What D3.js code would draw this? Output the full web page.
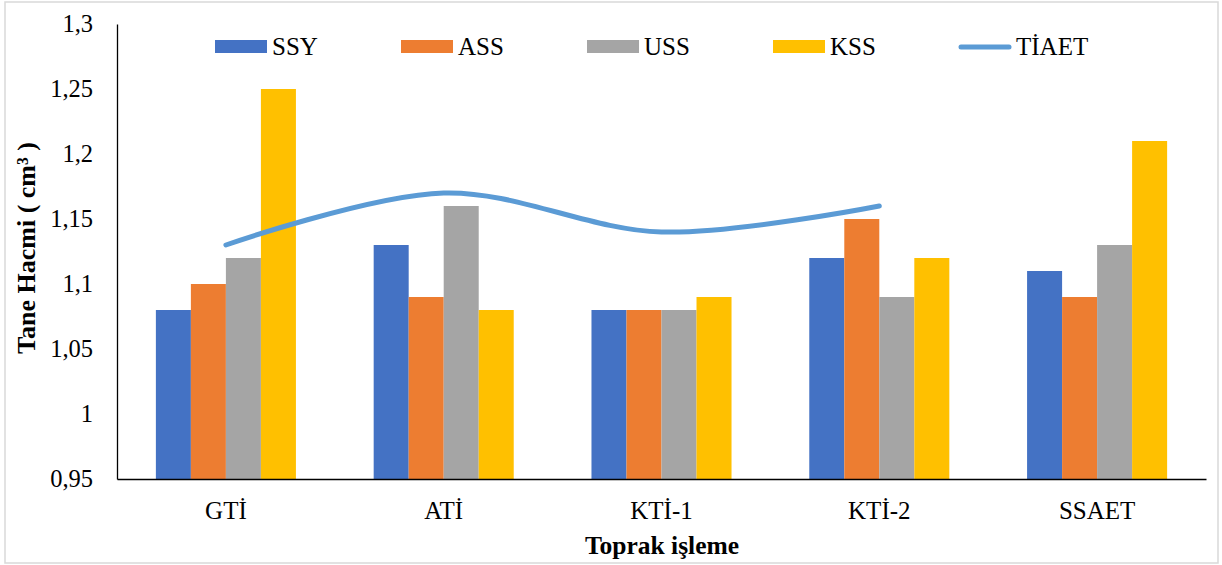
<!DOCTYPE html>
<html>
<head>
<meta charset="utf-8">
<script src="https://cdn.jsdelivr.net/npm/d3@7"></script>
<style>
  html, body { margin: 0; padding: 0; background: #fff; }
  svg { display: block; }
</style>
</head>
<body>
<svg id="chart" width="1222" height="565"></svg>
<script>
// Soil tillage methods (x categories)
const categories = ["GTİ", "ATİ", "KTİ-1", "KTİ-2", "SSAET"];

// Grain volume (cm³) per series
const seriesNames = ["SSY", "ASS", "USS", "KSS"];
const ssy = [1.08, 1.13, 1.08, 1.12, 1.11];
const ass = [1.10, 1.09, 1.08, 1.15, 1.09];
const uss = [1.12, 1.16, 1.08, 1.09, 1.13];
const kss = [1.25, 1.08, 1.09, 1.12, 1.21];

// Line series (no value for SSAET)
const lineName = "TİAET";
const tiaet = [1.13, 1.17, 1.14, 1.16];

const yTicks = [0.95, 1, 1.05, 1.1, 1.15, 1.2, 1.25, 1.3];

const barColors = ["#4472C4", "#ED7D31", "#A5A5A5", "#FFC000"];
const lineColor = "#5B9BD5";

const FONT = "'Times New Roman', Tinos, 'Liberation Serif', 'DejaVu Serif', serif";

const svg = d3.select("#chart");
const W = 1222, H = 565;
const plot = { left: 117, right: 1206, top: 24, bottom: 479 };

// chart frame
svg.append("rect")
  .attr("x", 5).attr("y", 2).attr("width", W - 9).attr("height", H - 4)
  .attr("fill", "#fff").attr("stroke", "#d9d9d9").attr("stroke-width", 1.5);

const x0 = d3.scaleBand()
  .domain(categories)
  .range([plot.left, plot.right])
  .paddingInner(0.357)
  .paddingOuter(0.1785);

const x1 = d3.scaleBand()
  .domain(seriesNames)
  .range([0, x0.bandwidth()]);

const y = d3.scaleLinear().domain([0.95, 1.3]).range([plot.bottom, plot.top]);

const fmt = v => d3.format("~g")(v).replace(".", ",");

// Bars
const seriesData = [ssy, ass, uss, kss];
const rows = categories.map((c, i) => ({
  cat: c,
  vals: seriesNames.map((s, j) => ({ s, v: seriesData[j][i], j }))
}));

const groups = svg.append("g").selectAll("g")
  .data(rows).join("g")
  .attr("transform", d => `translate(${x0(d.cat)},0)`);

groups.selectAll("rect")
  .data(d => d.vals).join("rect")
  .attr("x", d => x1(d.s))
  .attr("y", d => y(d.v))
  .attr("width", x1.bandwidth())
  .attr("height", d => y(0.95) - y(d.v))
  .attr("fill", d => barColors[d.j]);

// Y axis: line and labels only
const yAxis = d3.axisLeft(y).tickValues(yTicks).tickFormat(fmt).tickSize(0).tickPadding(24);
const yg = svg.append("g").attr("transform", `translate(${plot.left},0)`).call(yAxis)
  .attr("font-family", FONT).attr("font-size", 24.5);
yg.select(".domain").attr("stroke", "#000").attr("stroke-width", 1.3);
yg.selectAll("text").attr("fill", "#000");

// X axis
const xAxis = d3.axisBottom(x0).tickSize(0).tickPadding(22);
const xg = svg.append("g").attr("transform", `translate(0,${plot.bottom})`).call(xAxis)
  .attr("font-family", FONT).attr("font-size", 25);
xg.select(".domain").attr("stroke", "#000").attr("stroke-width", 1.3);
xg.selectAll("text").attr("fill", "#000");

// Smoothed line
const line = d3.line()
  .x((d, i) => x0(categories[i]) + x0.bandwidth() / 2)
  .y(d => y(d))
  .curve(d3.curveCatmullRom.alpha(0.5));

svg.append("path")
  .datum(tiaet)
  .attr("d", line)
  .attr("fill", "none")
  .attr("stroke", lineColor)
  .attr("stroke-width", 5)
  .attr("stroke-linecap", "round");

// Axis titles
svg.append("text")
  .attr("x", 662)
  .attr("y", 554)
  .attr("text-anchor", "middle")
  .attr("font-family", FONT).attr("font-size", 25.5).attr("font-weight", "bold")
  .text("Toprak işleme");

svg.append("text")
  .attr("transform", `translate(35,248) rotate(-90)`)
  .attr("text-anchor", "middle")
  .attr("font-family", FONT).attr("font-size", 26).attr("font-weight", "bold")
  .text("Tane Hacmi ( cm³ )");

// Legend
const legendItems = seriesNames.map((s, i) => ({ name: s, color: barColors[i], type: "bar" }))
  .concat([{ name: lineName, color: lineColor, type: "line" }]);

const lg = svg.append("g").selectAll("g")
  .data(legendItems).join("g")
  .attr("transform", (d, i) => `translate(${215 + i * 186},0)`);

lg.filter(d => d.type === "bar").append("rect")
  .attr("x", 0).attr("y", 40).attr("width", 52).attr("height", 13)
  .attr("fill", d => d.color);

lg.filter(d => d.type === "line").append("line")
  .attr("x1", 2).attr("x2", 50).attr("y1", 47).attr("y2", 47)
  .attr("stroke", d => d.color).attr("stroke-width", 5).attr("stroke-linecap", "round");

lg.append("text")
  .attr("x", 57).attr("y", 55)
  .attr("font-family", FONT).attr("font-size", 25)
  .text(d => d.name);
</script>
</body>
</html>
